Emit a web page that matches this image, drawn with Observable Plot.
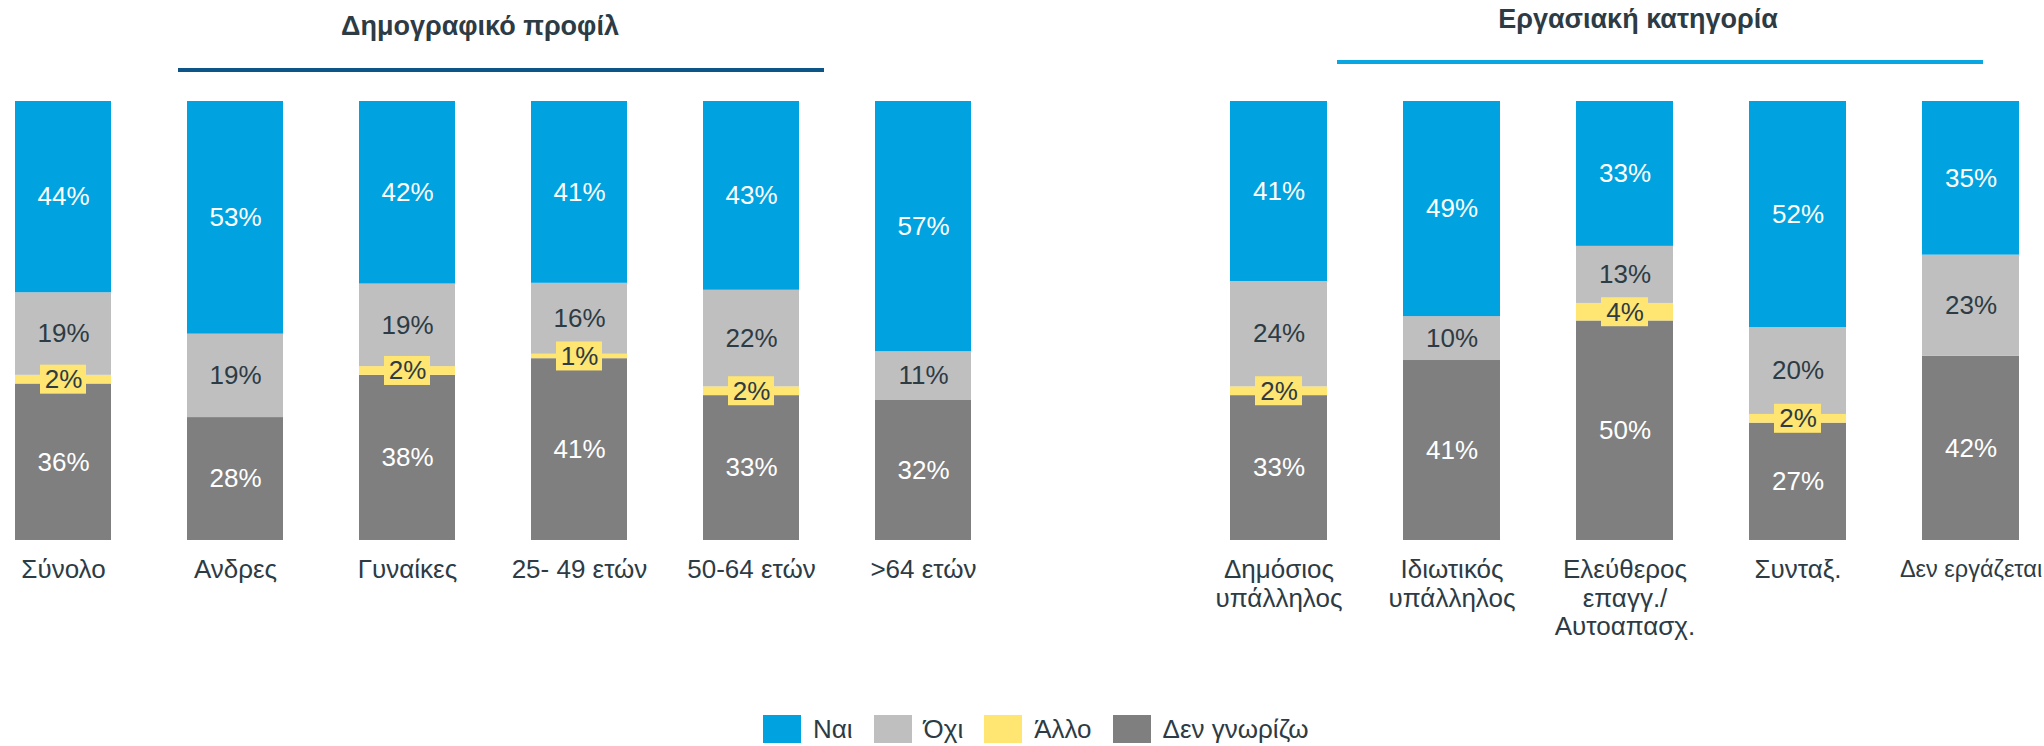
<!DOCTYPE html>
<html><head><meta charset="utf-8">
<script src="https://cdn.jsdelivr.net/npm/d3@7"></script>
<script src="https://cdn.jsdelivr.net/npm/@observablehq/plot@0.6"></script>
<style>
html,body{margin:0;padding:0;background:#fff;}
#root{position:relative;width:2044px;height:746px;overflow:hidden;font-family:"Liberation Sans",Arial,sans-serif;color:#2d3b45;}
.title{position:absolute;font-weight:bold;font-size:27px;line-height:27px;transform:translateX(-50%);white-space:nowrap;}
.rule{position:absolute;height:4px;}
#legend{position:absolute;left:763px;top:715px;display:flex;align-items:center;font-size:26px;line-height:28px;}
.item{display:flex;align-items:center;margin-right:21px;}
.sw{width:38px;height:28px;margin-right:12px;}
.panel{position:absolute;top:0;}
</style></head><body><div id="root"></div>
<script>
const series = ["Ναι", "Όχι", "Άλλο", "Δεν γνωρίζω"];
const seriesColors = ["#00A3E0", "#BFBFBF", "#FFE571", "#7F7F7F"];

const demoTitle = "Δημογραφικό προφίλ";
const demoCats = ["Σύνολο", "Ανδρες", "Γυναίκες", "25- 49 ετών", "50-64 ετών", ">64 ετών"];
const demoYes = [44, 53, 42, 41, 43, 57];
const demoNo = [19, 19, 19, 16, 22, 11];
const demoOther = [2, 0, 2, 1, 2, 0];
const demoDk = [36, 28, 38, 41, 33, 32];

const workTitle = "Εργασιακή κατηγορία";
const workCats = ["Δημόσιος\nυπάλληλος", "Ιδιωτικός\nυπάλληλος", "Ελεύθερος\nεπαγγ./\nΑυτοαπασχ.", "Συνταξ.", "Δεν εργάζεται"];
const workYes = [41, 49, 33, 52, 35];
const workNo = [24, 10, 13, 20, 23];
const workOther = [2, 0, 4, 2, 0];
const workDk = [33, 41, 50, 27, 42];

const textDark = "#2d3b45";
const FONT = '"Liberation Sans", Arial, sans-serif';

function build(cats, yes, no, other, dk) {
  const rows = [];
  cats.forEach((c, i) => {
    const vals = {"Ναι": yes[i], "Όχι": no[i], "Άλλο": other[i], "Δεν γνωρίζω": dk[i]};
    const total = yes[i] + no[i] + other[i] + dk[i];
    let acc = 0;
    for (const s of ["Δεν γνωρίζω", "Άλλο", "Όχι", "Ναι"]) {
      const v = vals[s];
      const y1 = acc / total, y2 = (acc + v) / total;
      acc += v;
      if (v > 0) rows.push({cat: c, series: s, value: v, y1, y2, mid: (y1 + y2) / 2});
    }
  });
  return rows;
}

function panel(cats, rows, opts) {
  const light = rows.filter(d => d.series === "Ναι" || d.series === "Δεν γνωρίζω");
  const dark = rows.filter(d => d.series === "Όχι" || d.series === "Άλλο");
  return Plot.plot({
    width: opts.width,
    height: 640,
    marginTop: 101,
    marginBottom: 100,
    marginLeft: opts.marginLeft,
    marginRight: opts.marginRight,
    style: {fontFamily: FONT, fontSize: "26px", color: textDark, background: "transparent", overflow: "visible"},
    x: {domain: cats, paddingInner: opts.paddingInner, paddingOuter: 0, label: null},
    y: {domain: [0, 1], axis: null},
    color: {domain: series, range: seriesColors},
    marks: [
      Plot.barY(rows, {x: "cat", y1: "y1", y2: "y2", fill: "series"}),
      Plot.barY(rows.filter(d => d.series === "Άλλο"), {x: "cat", y1: "mid", y2: "mid", fill: seriesColors[2], insetLeft: 25, insetRight: 25, insetTop: -14.5, insetBottom: -14.5}),
      Plot.text(light, {x: "cat", y: "mid", text: d => d.value + "%", fill: "white", fontSize: 26}),
      Plot.text(dark, {x: "cat", y: "mid", text: d => d.value + "%", fill: textDark, fontSize: 26}),
      Plot.axisX({tickSize: 0, tickPadding: 18, fontSize: opts.tickFontSize || 26, lineHeight: 1.08, fill: textDark, label: null})
    ]
  });
}

const root = document.getElementById("root");

const left = panel(demoCats, build(demoCats, demoYes, demoNo, demoOther, demoDk),
  {width: 1000, marginLeft: 14, marginRight: 28, paddingInner: 0.443});
left.classList.add("panel");
left.style.left = "0px";
root.appendChild(left);

const right = panel(workCats, build(workCats, workYes, workNo, workOther, workDk),
  {width: 944, marginLeft: 128, marginRight: 24, paddingInner: 0.442,
   tickFontSize: d => (d === workCats[4] ? 23.5 : 26)});
right.classList.add("panel");
right.style.left = "1100px";
root.appendChild(right);

function addTitle(text, cx, top) {
  const t = document.createElement("div");
  t.className = "title";
  t.textContent = text;
  t.style.left = cx + "px";
  t.style.top = top + "px";
  root.appendChild(t);
}
function addRule(x0, x1, top, color) {
  const r = document.createElement("div");
  r.className = "rule";
  r.style.left = x0 + "px";
  r.style.width = (x1 - x0) + "px";
  r.style.top = top + "px";
  r.style.background = color;
  root.appendChild(r);
}
addTitle(demoTitle, 480, 13);
addRule(178, 824, 68, "#0d5586");
addTitle(workTitle, 1638, 6);
addRule(1337, 1983, 60, "#0aa6e2");

const legend = document.createElement("div");
legend.id = "legend";
series.forEach((s, i) => {
  const item = document.createElement("div");
  item.className = "item";
  const sw = document.createElement("div");
  sw.className = "sw";
  sw.style.background = seriesColors[i];
  const lab = document.createElement("span");
  lab.textContent = s;
  item.appendChild(sw);
  item.appendChild(lab);
  legend.appendChild(item);
});
root.appendChild(legend);
</script></body></html>
